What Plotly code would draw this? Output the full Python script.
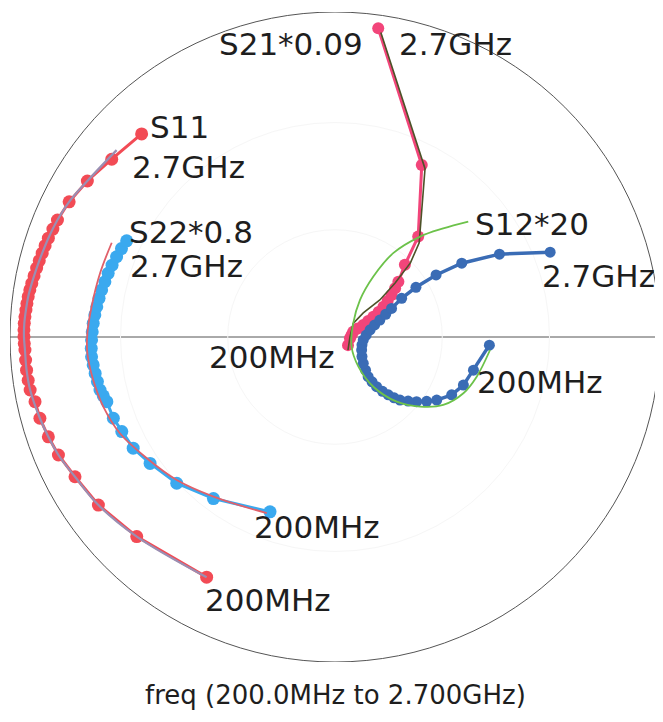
import plotly.graph_objects as go

# ---- data (real / imaginary parts, normalised to the unit circle) ----
s11_re = [-0.395, -0.610, -0.728, -0.800, -0.851, -0.882, -0.908, -0.923, -0.938, -0.944, -0.949,
          -0.952, -0.954, -0.956, -0.957, -0.957, -0.956, -0.954, -0.951, -0.948, -0.944, -0.939,
          -0.933, -0.926, -0.918, -0.910, -0.901, -0.892, -0.882, -0.868, -0.854, -0.818, -0.762,
          -0.687, -0.595]
s11_im = [-0.739, -0.614, -0.517, -0.430, -0.363, -0.307, -0.250, -0.199, -0.163, -0.133, -0.102,
          -0.071, -0.040, -0.020, 0.001, 0.022, 0.042, 0.062, 0.083, 0.103, 0.124, 0.145,
          0.165, 0.188, 0.212, 0.235, 0.258, 0.281, 0.304, 0.332, 0.360, 0.416, 0.480,
          0.547, 0.625]
s11_fit_re = [-0.395, -0.610, -0.728, -0.800, -0.851, -0.882, -0.908, -0.938, -0.949, -0.954,
              -0.957, -0.956, -0.951, -0.944, -0.933, -0.918, -0.901, -0.882, -0.854, -0.818,
              -0.762, -0.672]
s11_fit_im = [-0.739, -0.614, -0.517, -0.430, -0.363, -0.307, -0.250, -0.163, -0.102, -0.040,
              0.001, 0.042, 0.083, 0.124, 0.165, 0.212, 0.258, 0.304, 0.360, 0.416,
              0.480, 0.575]

s22_re = [-0.200, -0.374, -0.487, -0.569, -0.621, -0.656, -0.682, -0.702, -0.713, -0.723, -0.731,
          -0.738, -0.744, -0.749, -0.750, -0.749, -0.747, -0.744, -0.739, -0.733, -0.726, -0.718,
          -0.708, -0.698, -0.686, -0.672, -0.657, -0.641]
s22_im = [-0.538, -0.497, -0.450, -0.389, -0.342, -0.291, -0.250, -0.199, -0.181, -0.163, -0.137,
          -0.112, -0.086, -0.061, -0.035, -0.009, 0.016, 0.042, 0.068, 0.093, 0.119, 0.145,
          0.170, 0.196, 0.221, 0.247, 0.272, 0.296]
s22_fit_re = [-0.210, -0.374, -0.487, -0.579, -0.662, -0.713, -0.744, -0.762, -0.762, -0.749,
              -0.723, -0.687]
s22_fit_im = [-0.542, -0.491, -0.440, -0.373, -0.296, -0.214, -0.132, -0.050, 0.011, 0.093,
              0.196, 0.290]

s21_re = [0.040, 0.046, 0.051, 0.056, 0.070, 0.087, 0.102, 0.118, 0.134, 0.149, 0.162,
          0.174, 0.185, 0.195, 0.215, 0.256, 0.267, 0.133]
s21_im = [-0.025, -0.004, 0.006, 0.016, 0.026, 0.037, 0.049, 0.062, 0.077, 0.093, 0.111,
          0.129, 0.150, 0.170, 0.222, 0.309, 0.529, 0.950]
s21_fit_re = [0.040, 0.046, 0.056, 0.087, 0.138, 0.185, 0.232, 0.259, 0.277, 0.141]
s21_fit_im = [-0.040, 0.000, 0.042, 0.074, 0.114, 0.166, 0.228, 0.290, 0.518, 0.937]

s12_re = [0.475, 0.426, 0.395, 0.359, 0.313, 0.282, 0.251, 0.225, 0.200, 0.182, 0.164, 0.146,
          0.128, 0.114, 0.102, 0.094, 0.087, 0.083, 0.082, 0.083, 0.087, 0.096, 0.108, 0.122,
          0.138, 0.156, 0.174, 0.205, 0.249, 0.311, 0.390, 0.506, 0.662]
s12_im = [-0.025, -0.102, -0.148, -0.178, -0.194, -0.198, -0.199, -0.197, -0.194, -0.187, -0.178, -0.167,
          -0.153, -0.138, -0.122, -0.102, -0.081, -0.060, -0.040, -0.024, -0.009, 0.006, 0.022, 0.037,
          0.052, 0.070, 0.088, 0.119, 0.153, 0.191, 0.227, 0.255, 0.261]
s12_fit_re = [0.477, 0.436, 0.395, 0.333, 0.262, 0.190, 0.118, 0.072, 0.051, 0.056, 0.077,
              0.118, 0.179, 0.262, 0.333, 0.410]
s12_fit_im = [-0.040, -0.122, -0.173, -0.209, -0.214, -0.199, -0.153, -0.091, -0.030, 0.042, 0.114,
              0.186, 0.258, 0.309, 0.334, 0.355]

# labels: (text, re, im, xanchor)
labels = [
    ("S21*0.09", 0.092, 0.902, "right"),
    ("2.7GHz", 0.191, 0.902, "left"),
    ("S11", -0.575, 0.646, "left"),
    ("2.7GHz", -0.631, 0.523, "left"),
    ("S22*0.8", -0.640, 0.323, "left"),
    ("2.7GHz", -0.637, 0.218, "left"),
    ("S12*20", 0.425, 0.348, "left"),
    ("2.7GHz", 0.631, 0.188, "left"),
    ("200MHz", 0.006, -0.062, "right"),
    ("200MHz", 0.431, -0.138, "left"),
    ("200MHz", -0.255, -0.585, "left"),
    ("200MHz", -0.406, -0.809, "left"),
]
x_title = "freq (200.0MHz to 2.700GHz)"

fig = go.Figure()

def add_meas(re, im, color, msize, lw):
    fig.add_trace(go.Scatter(x=re, y=im, mode="lines+markers",
                             line=dict(color=color, width=lw),
                             marker=dict(color=color, size=msize),
                             showlegend=False, hoverinfo="skip", cliponaxis=False))

def add_fit(re, im, color, lw, shape="spline"):
    fig.add_trace(go.Scatter(x=re, y=im, mode="lines", line=dict(color=color, width=lw, shape=shape),
                             showlegend=False, hoverinfo="skip", cliponaxis=False))

add_meas(s11_re, s11_im, "#f24b55", 13, 3)
add_fit(s11_fit_re, s11_fit_im, "#9a8fb3", 2.2)
add_meas(s22_re, s22_im, "#3aa9ef", 13, 3)
add_fit(s22_fit_re, s22_fit_im, "#e0606a", 1.8)
add_meas(s21_re, s21_im, "#f2457a", 12, 3)
add_fit(s21_fit_re, s21_fit_im, "#4d5228", 1.6, "linear")
add_meas(s12_re, s12_im, "#3a6cb5", 11, 3.5)
add_fit(s12_fit_re, s12_fit_im, "#6cc24a", 1.8)

shapes = [
    dict(type="circle", xref="x", yref="y", x0=-1, y0=-1, x1=1, y1=1,
         line=dict(color="#555555", width=1), layer="below"),
    dict(type="line", xref="x", yref="y", x0=-1, y0=0, x1=1, y1=0,
         line=dict(color="#555555", width=1), layer="below"),
]
for r in [0.33, 0.66]:
    shapes.append(dict(type="circle", xref="x", yref="y", x0=-r, y0=-r, x1=r, y1=r,
                       line=dict(color="#f6f6f6", width=1), layer="below"))

annotations = []
for txt, ax_, ay_, anc in labels:
    annotations.append(dict(text=txt, x=ax_, y=ay_, xref="x", yref="y", showarrow=False,
                            xanchor=anc, yanchor="middle",
                            font=dict(family="DejaVu Sans", size=31, color="#1e1e1e")))
annotations.append(dict(text=x_title, x=0.5, y=-0.051, xref="paper", yref="paper", showarrow=False,
                        xanchor="center", yanchor="middle",
                        font=dict(family="DejaVu Sans", size=26, color="#1e1e1e")))

fig.update_layout(
    width=655, height=714,
    margin=dict(l=2, r=3, t=4, b=60),
    paper_bgcolor="white", plot_bgcolor="white",
    xaxis=dict(range=[-1, 1], visible=False, fixedrange=True),
    yaxis=dict(range=[-1, 1], visible=False, fixedrange=True),
    shapes=shapes, annotations=annotations,
)

fig.write_html("out.html")
